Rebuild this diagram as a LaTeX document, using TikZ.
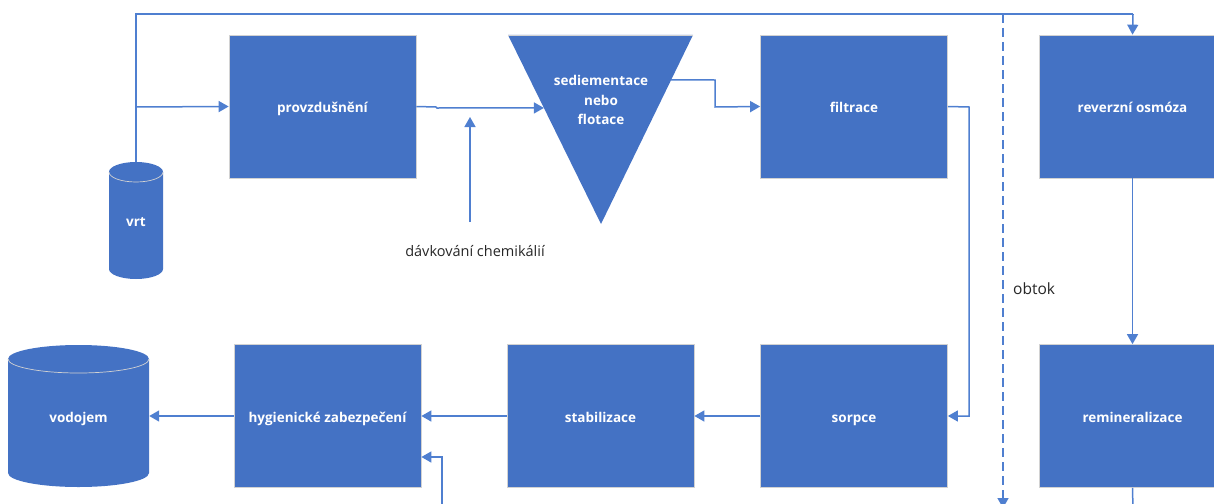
\documentclass[tikz,border=0pt]{standalone}
\usepackage{fontspec}
\setmainfont{Open Sans}
\usetikzlibrary{arrows.meta,calc}
\definecolor{obl}{HTML}{4472C4}
\definecolor{oln}{HTML}{4F7FD0}
\begin{document}
\begin{tikzpicture}[x=1pt,y=1pt,yscale=-1,
  boxfont/.style={text=white,font=\fontsize{13.5}{16}\selectfont\bfseries,text height=12pt,text depth=0pt},
  box/.style={rectangle,fill=obl,draw=gray!35,line width=0.7pt,minimum width=187pt,minimum height=143pt,inner sep=0pt,boxfont},
  conn/.style={draw=oln,line width=1.5pt},
  arr/.style={conn,-{Triangle[length=10pt,width=11pt]}},
  lbl/.style={font=\fontsize{14.5}{17}\selectfont,text=black!85,inner sep=0pt}]
\useasboundingbox (0,0) rectangle (1214,503);
% boxes
\node[box] (provz) at (322.5,106.5) {provzdušnění};
\node[box] (filt) at (854,106.5) {filtrace};
\node[box] (ro) at (1132.5,106.5) {reverzní osmóza};
\node[box] (remin) at (1132.5,416) {remineralizace};
\node[box] (sorp) at (854,416) {sorpce};
\node[box] (stab) at (600.5,416) {stabilizace};
\node[box] (hyg) at (327.5,416) {hygienické zabezpečení};
% triangle
\coordinate (tl) at (508,35);
\coordinate (tr) at (693,35);
\coordinate (tap) at (601,224);
\fill[obl] (tl) -- (tr) -- (tap) -- cycle;
\draw[gray!35,line width=0.7pt] (tl) -- (tr);
\node[text=white,font=\fontsize{13.5}{19.5}\selectfont\bfseries,align=center,inner sep=0pt] (sed) at (601,100) {sediementace\\nebo\\flotace};
% cylinder vrt
\fill[obl] (109,172) -- (109,269) arc[start angle=180,end angle=0,x radius=27,y radius=10] -- (163,172) arc[start angle=0,end angle=-180,x radius=27,y radius=10] -- cycle;
\draw[gray!35,line width=0.7pt] (109,172) arc[start angle=180,end angle=0,x radius=27,y radius=10];
\node[minimum width=54pt,minimum height=117pt,inner sep=0pt,boxfont] (vrt) at (136,220.5) {vrt};
% cylinder vodojem
\fill[obl] (8,359) -- (8,473) arc[start angle=180,end angle=0,x radius=70.5,y radius=14] -- (149,359) arc[start angle=0,end angle=-180,x radius=70.5,y radius=14] -- cycle;
\draw[gray!35,line width=0.7pt] (8,359) arc[start angle=180,end angle=0,x radius=70.5,y radius=14];
\node[minimum width=141pt,minimum height=142pt,inner sep=0pt,boxfont] (vod) at (78.5,416) {vodojem};
% labels
\node[lbl] (chem) at (475,251) {dávkování chemikálií};
\node[lbl,font=\fontsize{15.5}{18}\selectfont,anchor=west] (obt) at (1013,289) {obtok};
% connectors
\coordinate (vrttop) at (136,162);
\draw[conn] (vrttop) -- (136,14) -- (1133,14);
\draw[arr] (1133,14) -- (ro.north);
\draw[arr] (136,107) -- (provz.west);
\coordinate (sedin) at ($(tl)!0.386!(tap)$);
\draw[arr] (provz.east) -- (436,107) -- (437,108) -- (sedin);
\coordinate (chemtop) at (470,222);
\coordinate (chemtip) at (470,117);
\draw[arr] (chemtop) -- (chemtip);
\coordinate (sedout) at ($(tr)!0.238!(tap)$);
\draw[arr] (sedout) -- (715,80) -- (715,107) -- (filt.west);
\draw[arr] (filt.east) -- (969,107) -- (969,416) -- (sorp.east);
\coordinate (bypasstop) at (1003,14);
\coordinate (bypassend) at (1003,508);
\draw[arr,dash pattern=on 9pt off 5pt] (bypasstop) -- (bypassend);
\draw[arr] (ro.south) -- (remin.north);
\coordinate (reminout) at (1133,510);
\draw[conn] (remin.south) -- (reminout);
\draw[arr] (sorp.west) -- (stab.east);
\draw[arr] (stab.west) -- (hyg.east);
\draw[arr] (hyg.west) -- (vod.east);
\coordinate (hygin) at (442,510);
\draw[arr] (hygin) -- (442,457) -- (hyg.east |- 0,457);
\end{tikzpicture}
\end{document}
